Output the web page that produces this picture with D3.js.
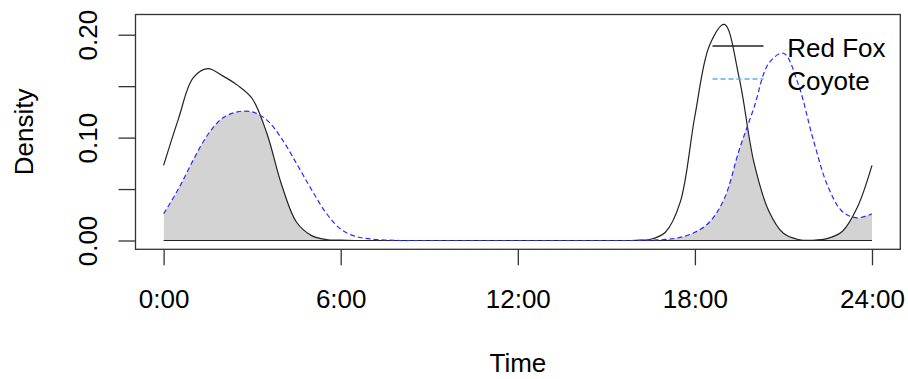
<!DOCTYPE html>
<html>
<head>
<meta charset="utf-8">
<script src="https://cdn.jsdelivr.net/npm/d3@7"></script>
<style>
  html, body { margin: 0; padding: 0; background: #fff; }
  svg { display: block; font-family: "Liberation Sans", Arial, sans-serif; }
</style>
</head>
<body>
<svg id="chart" width="908" height="379"></svg>
<script>
// ---- data ----
const hours = [0,0.5,1,1.5,2,2.5,3,3.5,4,4.5,5,5.5,6,6.5,7,7.5,8,8.5,9,9.5,10,10.5,11,11.5,12,
  12.5,13,13.5,14,14.5,15,15.5,16,16.5,17,17.5,18,18.5,19,19.5,20,20.5,21,21.5,22,22.5,23,23.5,24];
const redFox = [0.073,0.118,0.158,0.167,0.160,0.151,0.138,0.104,0.054,0.018,0.005,0.001,0.0003,
  0,0,0,0,0,0,0,0,0,0,0,0,0,0,0,0,0,0,0,
  0.0002,0.0012,0.008,0.037,0.121,0.190,0.210,0.158,0.076,0.029,0.007,0.001,0.0002,0.002,0.009,0.032,0.073];
const coyote = [0.026,0.050,0.078,0.103,0.119,0.125,0.125,0.117,0.099,0.075,0.050,0.027,0.011,0.004,0.0015,0.0005,
  0,0,0,0,0,0,0,0,0,0,0,0,0,0,0,0,0,
  0.0003,0.001,0.003,0.008,0.018,0.041,0.088,0.129,0.172,0.182,0.152,0.099,0.053,0.028,0.022,0.026];
const xTicks = [0,6,12,18,24];
const xTickLabels = ["0:00","6:00","12:00","18:00","24:00"];
const yTicks = [0,0.05,0.10,0.15,0.20];
const yTickLabels = ["0.00","","0.10","","0.20"];
const seriesNames = ["Red Fox","Coyote"];

// ---- layout ----
const svg = d3.select("#chart");
const box = {left: 135.5, right: 900.3, top: 14.5, bottom: 249.3};
const x = d3.scaleLinear().domain([0,24]).range([163.6, 872]);
const y = d3.scaleLinear().domain([0,0.2]).range([240.5, 34.7]);
const FS = 26;

const fox = hours.map((h,i)=>({h, v: redFox[i]}));
const coy = hours.map((h,i)=>({h, v: coyote[i]}));
const curve = d3.curveCatmullRom.alpha(0.5);

const area = d3.area().x(d=>x(d.h)).y0(y(0)).y1(d=>y(Math.max(0,d.v))).curve(curve);
const line = d3.line().x(d=>x(d.h)).y(d=>y(Math.max(0,d.v))).curve(curve);

// overlap shading: area under fox clipped by area under coyote
svg.append("defs").append("clipPath").attr("id","coyClip")
  .append("path").attr("d", area(coy));
svg.append("path").attr("d", area(fox)).attr("fill","#d3d3d3")
  .attr("clip-path","url(#coyClip)");

// baseline
svg.append("line").attr("x1",x(0)).attr("x2",x(24)).attr("y1",y(0)).attr("y2",y(0))
  .attr("stroke","#222").attr("stroke-width",1.2);

// curves
svg.append("path").attr("d", line(fox)).attr("fill","none")
  .attr("stroke","#222").attr("stroke-width",1.2);
svg.append("path").attr("d", line(coy)).attr("fill","none")
  .attr("stroke","#2a2aff").attr("stroke-width",1.2).attr("stroke-dasharray","5,3");

// box
svg.append("rect").attr("x",box.left).attr("y",box.top)
  .attr("width",box.right-box.left).attr("height",box.bottom-box.top)
  .attr("fill","none").attr("stroke","#333").attr("stroke-width",1.3);

// x axis
const xAxis = svg.append("g").attr("transform",`translate(0,${box.bottom})`)
  .call(d3.axisBottom(x).tickValues(xTicks).tickFormat((d,i)=>xTickLabels[i]).tickSize(16));
xAxis.select(".domain").remove();
xAxis.selectAll(".tick line").attr("stroke","#333").attr("stroke-width",1.3);
xAxis.selectAll(".tick text").attr("y", 308-box.bottom).attr("dy",0)
  .attr("font-size",FS).attr("font-family","Liberation Sans, Arial, sans-serif").attr("fill","#000");

// y axis
const yAxis = svg.append("g").attr("transform",`translate(${box.left},0)`)
  .call(d3.axisLeft(y).tickValues(yTicks).tickFormat((d,i)=>yTickLabels[i]).tickSize(17));
yAxis.select(".domain").remove();
yAxis.selectAll(".tick line").attr("stroke","#333").attr("stroke-width",1.3);
yAxis.selectAll(".tick text").attr("x",null).attr("dy",0)
  .attr("transform",`translate(${97-box.left},0) rotate(-90)`)
  .attr("text-anchor","middle")
  .attr("font-size",FS).attr("font-family","Liberation Sans, Arial, sans-serif").attr("fill","#000");

// axis titles
svg.append("text").attr("x",(box.left+box.right)/2).attr("y",372.3)
  .attr("text-anchor","middle").attr("font-size",FS).text("Time");
svg.append("text").attr("transform",`translate(33.3,${(box.top+box.bottom)/2}) rotate(-90)`)
  .attr("text-anchor","middle").attr("font-size",FS).text("Density");

// legend
const legColors = ["#222","#5ab0ee"];
const legDash = [null,"5,3"];
const leg = svg.append("g");
seriesNames.forEach((name,i)=>{
  const yy = 46 + i*33;
  leg.append("line").attr("x1",712.5).attr("x2",763.5).attr("y1",yy).attr("y2",yy)
    .attr("stroke",legColors[i]).attr("stroke-width",1.3).attr("stroke-dasharray",legDash[i]);
  leg.append("text").attr("x",787.3).attr("y",yy+11).attr("font-size",FS).text(name);
});
</script>
</body>
</html>
